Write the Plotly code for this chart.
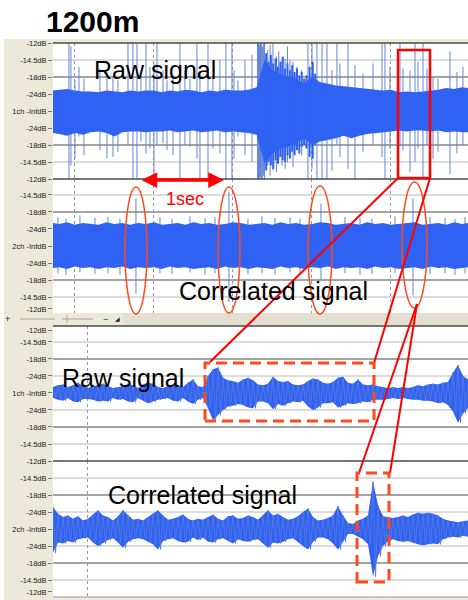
import numpy as np
import plotly.graph_objects as go

W, H = 468, 600

# ---------------- data ----------------
# time grid of the overview panels, seconds (dotted lines = 1 s apart)
env_t = [-0.28] + [round(k / 10, 1) for k in range(-2, 50)] + [4.98]

# channel 1 (raw) overview: upper / lower envelope, in dB-scale steps
raw_top = [1.2, 1.25, 1.3, 1.2, 1.15, 1.15, 1.1, 1.2, 1.15, 1.1,
           1.2, 1.15, 1.2, 1.2, 1.1, 1.2, 1.15, 1.25, 1.2, 1.1,
           1.2, 1.15, 1.25, 1.2, 1.2, 1.25, 1.4, 3.0, 2.4, 2.2,
           2.0, 1.9, 1.6, 2.0, 1.7, 1.6, 1.5, 1.45, 1.4, 1.35,
           1.3, 1.25, 1.2, 1.25, 1.1, 1.15, 1.1, 1.15, 1.2, 1.25,
           1.35, 1.3, 1.4, 1.35]
raw_bot = [-1.3, -1.35, -1.45, -1.3, -1.4, -1.25, -1.2, -1.3, -1.5, -1.25,
           -1.2, -1.2, -1.25, -1.2, -1.2, -1.15, -1.25, -1.2, -1.15, -1.25,
           -1.2, -1.15, -1.25, -1.2, -1.25, -1.3, -1.4, -3.1, -2.5, -2.2,
           -2.1, -1.9, -1.6, -2.0, -1.8, -1.7, -1.6, -1.45, -1.6, -1.45,
           -1.35, -1.3, -1.25, -1.2, -1.15, -1.2, -1.15, -1.15, -1.2, -1.15,
           -1.25, -1.2, -1.25, -1.25]
# dense loud section of channel 1 (per-column peaks)
burst_t = [2.42, 2.45, 2.48, 2.51, 2.54, 2.57, 2.60, 2.63, 2.66, 2.69, 2.72,
           2.75, 2.78, 2.81, 2.84, 2.87, 2.90, 2.93, 2.97, 3.01, 3.04]
burst_top = [3.4, 2.9, 3.3, 2.8, 3.1, 2.6, 2.9, 3.2, 2.5, 2.8, 2.4,
             2.7, 2.3, 2.5, 2.1, 2.3, 1.9, 2.1, 2.6, 2.9, 2.2]
burst_bot = [-3.5, -3.0, -3.2, -3.4, -2.9, -3.1, -2.7, -2.9, -3.0, -2.6, -2.8,
             -2.4, -2.6, -2.3, -2.5, -2.1, -2.0, -2.2, -2.7, -2.8, -2.0]
# clicks / peaks in channel 1
raw_spike_t = [-0.076, -0.051, 0.0, 0.051, 0.114, 0.316, 0.405, 0.481, 0.544, 0.671,
               0.734, 0.785, 0.835, 0.899, 0.949, 1.0, 1.038, 1.114, 1.165, 1.241,
               1.329, 1.392, 1.456, 1.544, 1.582, 1.684, 1.747, 1.835, 1.911, 1.987,
               2.013, 2.063, 2.152, 2.241, 2.31, 2.323, 2.336, 2.349, 2.362, 2.375,
               2.388, 2.40, 2.44, 2.47, 2.506, 2.55, 2.58, 2.620, 2.66, 2.69,
               2.722, 2.76, 2.810, 2.87, 2.949, 3.0, 3.063, 3.127, 3.190, 3.253,
               3.316, 3.354, 3.456, 3.544, 3.646, 3.772, 3.886, 3.924, 3.987, 4.114,
               4.152, 4.241, 4.304, 4.342, 4.405, 4.456, 4.532, 4.595, 4.747, 4.835,
               4.911]
raw_spike_top = [4, 3.8, 1.8, 2.6, 1.9, 2.5, 2.3, 2.0, 1.8, 4,
                 4, 4, 2.2, 4, 2.6, 2.8, 4, 2.4, 1.8, 2.1,
                 4, 2.4, 1.9, 4, 2.3, 4, 2.0, 3.0, 4, 4,
                 2.4, 1.8, 3.0, 3.3, 4, 4, 3.9, 4, 4, 3.8,
                 4, 4, 3.6, 3.9, 4, 3.2, 3.5, 2.9, 3.1, 3.8,
                 3.0, 2.9, 2.6, 2.4, 4, 4, 4, 4, 4, 2.4,
                 4, 2.8, 4, 2.7, 2.2, 2.8, 4, 4, 2.6, 4,
                 2.5, 2.4, 4, 2.9, 4, 2.5, 2.0, 1.9, 3.5, 2.3,
                 2.6]
raw_spike_bot = [-4, -3.2, -2.8, -1.5, -2.6, -2.3, -2.8, -2.7, -2.4, -2.0,
                 -4, -4, -1.8, -2.5, -2.2, -4, -2.0, -1.9, -2.3, -2.6,
                 -4, -2.0, -2.1, -2.8, -4, -4, -2.2, -2.5, -4, -4,
                 -2.8, -1.5, -2.6, -3.0, -4, -4, -4, -3.9, -4, -4,
                 -3.8, -4, -3.2, -3.8, -3.5, -3.6, -2.9, -3.2, -3.4, -3.0,
                 -2.8, -3.3, -2.3, -2.6, -4, -3.4, -4, -4, -4, -3.5,
                 -2.0, -2.7, -3.4, -4, -2.4, -2.0, -2.7, -4, -2.2, -2.1,
                 -2.3, -3.6, -3.0, -2.2, -4, -2.0, -2.8, -2.4, -3.7, -2.5,
                 -2.0]

# channel 2 (correlated) overview
cor_top = [1.35, 1.3, 1.4, 1.25, 1.35, 1.3, 1.25, 1.4, 1.3, 1.35,
           1.25, 1.35, 1.3, 1.4, 1.25, 1.3, 1.35, 1.25, 1.4, 1.3,
           1.35, 1.25, 1.3, 1.4, 1.35, 1.25, 1.3, 1.35, 1.25, 1.4,
           1.3, 1.35, 1.25, 1.3, 1.4, 1.35, 1.25, 1.3, 1.35, 1.25,
           1.4, 1.3, 1.35, 1.25, 1.3, 1.35, 1.4, 1.25, 1.3, 1.35,
           1.25, 1.4, 1.3, 1.35]
cor_bot = [-1.3, -1.25, -1.35, -1.2, -1.3, -1.25, -1.35, -1.25, -1.3, -1.2,
           -1.35, -1.25, -1.3, -1.25, -1.35, -1.2, -1.3, -1.25, -1.35, -1.3,
           -1.25, -1.35, -1.2, -1.3, -1.25, -1.35, -1.25, -1.3, -1.35, -1.2,
           -1.3, -1.25, -1.35, -1.25, -1.3, -1.2, -1.35, -1.25, -1.3, -1.25,
           -1.35, -1.2, -1.3, -1.25, -1.35, -1.3, -1.25, -1.35, -1.2, -1.3,
           -1.25, -1.35, -1.3, -1.25]
cor_spike_t = [-0.215, -0.114, 0.063, 0.253, 0.418, 0.570, 0.772, 1.076, 1.228, 1.456,
               1.646, 1.772, 1.949, 2.190, 2.367, 2.532, 2.722, 2.848, 3.114, 3.418,
               3.608, 3.759, 4.051, 4.278, 4.494, 4.684, 4.810, 4.937]
cor_spike_top = [1.7, 1.6, 1.8, 1.65, 1.7, 1.6, 2.8, 1.7, 1.6, 1.75,
                 1.65, 1.7, 3.2, 1.6, 1.75, 1.65, 1.7, 1.6, 2.5, 1.7,
                 1.65, 1.6, 1.75, 2.8, 1.7, 1.65, 1.6, 1.7]
cor_spike_bot = [-1.6, -1.7, -1.55, -1.65, -1.6, -1.7, -2.8, -1.6, -1.65, -1.55,
                 -1.7, -1.6, -3.3, -1.65, -1.6, -1.7, -1.55, -1.65, -2.0, -1.6,
                 -1.7, -1.65, -1.6, -2.9, -1.65, -1.6, -1.7, -1.6]

# zoomed view (per-column max / min), seconds
zoom_t = list(np.linspace(3.95, 4.55, 84))
zraw_top = [0.35, 0.45, 0.5, 0.35, 0.45, 0.6, 0.4, 0.3, 0.4, 0.45,
            0.55, 0.4, 0.3, 0.35, 0.4, 0.55, 0.45, 0.3, 0.5, 0.6,
            0.55, 0.35, 0.3, 0.4, 0.5, 0.45, 0.35, 0.6, 0.8, 0.4,
            0.35, 1.0, 1.4, 1.5, 0.9, 0.75, 0.7, 0.6, 0.8, 0.9,
            0.75, 0.5, 0.45, 0.55, 0.95, 0.7, 0.65, 0.7, 0.5, 0.45,
            0.5, 0.7, 0.85, 0.8, 0.6, 0.55, 0.65, 0.9, 0.95, 0.6,
            0.55, 0.8, 0.5, 0.45, 0.5, 0.4, 0.35, 0.3, 0.35, 0.3,
            0.35, 0.3, 0.35, 0.45, 0.4, 0.5, 0.55, 0.5, 0.6, 0.65,
            1.2, 1.65, 1.0, 0.8]
zraw_bot = [-0.3, -0.4, -0.45, -0.3, -0.5, -0.55, -0.35, -0.35, -0.4, -0.5,
            -0.45, -0.5, -0.3, -0.4, -0.35, -0.5, -0.55, -0.3, -0.45, -0.6,
            -0.5, -0.4, -0.35, -0.3, -0.45, -0.5, -0.3, -0.5, -0.65, -0.4,
            -0.3, -0.9, -1.6, -1.3, -1.0, -0.8, -0.75, -0.65, -0.7, -0.85,
            -0.9, -0.5, -0.5, -0.6, -0.95, -0.65, -0.75, -0.6, -0.5, -0.55,
            -0.45, -0.8, -1.0, -0.85, -0.6, -0.6, -0.55, -0.85, -0.75, -0.6,
            -0.65, -0.6, -0.5, -0.55, -0.4, -0.4, -0.4, -0.35, -0.3, -0.35,
            -0.3, -0.35, -0.4, -0.4, -0.45, -0.45, -0.5, -0.6, -0.55, -0.7,
            -1.1, -1.75, -1.2, -0.9]
zcor_top = [1.3, 0.9, 0.7, 0.8, 0.6, 0.75, 0.5, 0.6, 0.85, 1.1,
            0.8, 0.7, 0.5, 0.75, 1.1, 0.8, 0.55, 0.6, 0.5, 0.7,
            0.9, 1.1, 0.8, 0.55, 0.6, 0.7, 0.85, 0.6, 0.5, 0.6,
            0.55, 0.7, 0.85, 0.6, 0.5, 0.75, 0.8, 0.6, 0.65, 0.8,
            0.7, 0.55, 0.8, 1.1, 0.8, 0.9, 0.7, 0.55, 0.6, 0.75,
            1.0, 1.2, 0.7, 0.5, 0.55, 0.65, 0.8, 1.35, 0.8, 0.35,
            0.3, 0.5, 0.6, 0.8, 2.8, 1.4, 0.75, 0.7, 0.65, 0.7,
            0.8, 0.7, 0.85, 0.95, 0.9, 0.95, 0.9, 0.8, 0.6, 0.5,
            0.45, 0.4, 0.45, 0.5]
zcor_bot = [-1.4, -0.8, -0.85, -0.7, -0.8, -0.6, -0.55, -0.5, -0.8, -1.0,
            -0.85, -0.65, -0.55, -0.8, -1.1, -0.75, -0.6, -0.55, -0.6, -0.75,
            -0.9, -1.2, -0.7, -0.6, -0.55, -0.7, -0.8, -0.75, -0.5, -0.65,
            -0.5, -0.75, -0.8, -0.6, -0.55, -0.7, -0.85, -0.6, -0.7, -0.75,
            -0.65, -0.6, -0.85, -1.1, -0.8, -0.85, -0.75, -0.6, -0.55, -0.8,
            -1.0, -1.2, -0.75, -0.5, -0.5, -0.6, -0.85, -1.2, -0.75, -0.3,
            -0.3, -0.45, -0.6, -0.9, -2.8, -1.6, -1.0, -0.7, -0.6, -0.7,
            -0.75, -0.7, -0.8, -0.9, -0.95, -0.9, -0.85, -0.9, -0.6, -0.5,
            -0.45, -0.5, -0.4, -0.45]

# dB tick labels
db_vals = [4, 3, 2, 1, 0, -1, -2, -3, -4]
db_text = ['-12dB', '-14.5dB', '-18dB', '-24dB', None, '-24dB', '-18dB', '-14.5dB', '-12dB']

# ---------------- styling ----------------
BODY = '#2F62F2'
PEAK = '#6584D8'
TEXTURE = '#5478E2'
BEIGE = '#ECE9D8'
DARK = '#4a4a4a'
LIGHT = '#b8b8b8'
RED = '#FF0000'
ORANGE = '#FF4A1A'
FONT = 'Liberation Sans, Arial, sans-serif'


def P(px):
    return px / W


def Q(py):
    return 1 - py / H


fig = go.Figure()


def band(t, top, bot, xa, ya, color=BODY):
    fig.add_trace(go.Scatter(x=list(t) + list(t)[::-1], y=list(top) + list(bot)[::-1],
                             fill='toself', fillcolor=color, mode='lines',
                             line=dict(width=0, color=color), hoverinfo='skip',
                             xaxis=xa, yaxis=ya))


def spikes(t, top, bot, xa, ya, color=PEAK, width=1):
    xs, ys = [], []
    for ti, a, b in zip(t, top, bot):
        xs += [ti, ti, None]
        ys += [a, b, None]
    fig.add_trace(go.Scatter(x=xs, y=ys, mode='lines', line=dict(width=width, color=color),
                             hoverinfo='skip', xaxis=xa, yaxis=ya))


def zigzag(t, top, bot, xa, ya):
    step = t[1] - t[0]
    xs, ys = [], []
    for ti, a, b in zip(t, top, bot):
        xs += [ti, ti + step / 2]
        ys += [a, b]
    fig.add_trace(go.Scatter(x=xs, y=ys, mode='lines', line=dict(width=0.9, color=TEXTURE),
                             hoverinfo='skip', xaxis=xa, yaxis=ya))


spikes(raw_spike_t, raw_spike_top, raw_spike_bot, 'x', 'y')
band(env_t, raw_top, raw_bot, 'x', 'y')
spikes(burst_t, burst_top, burst_bot, 'x', 'y', BODY, 2)
spikes(cor_spike_t, cor_spike_top, cor_spike_bot, 'x', 'y2')
band(env_t, cor_top, cor_bot, 'x', 'y2')
band(zoom_t, zraw_top, zraw_bot, 'x2', 'y3')
zigzag(zoom_t, zraw_top, zraw_bot, 'x2', 'y3')
band(zoom_t, zcor_top, zcor_bot, 'x2', 'y4')
zigzag(zoom_t, zcor_top, zcor_bot, 'x2', 'y4')

tickfont = dict(family=FONT, size=7.5, color='#222')


def yax(dom, rng, vals, texts, anchor):
    return dict(domain=dom, range=rng, tickvals=vals, ticktext=texts, ticks='outside',
                ticklen=4, tickcolor='#777', tickwidth=1, showgrid=False, zeroline=False,
                showline=False, anchor=anchor, tickfont=tickfont, automargin=False,
                fixedrange=True)


def xax(dom, rng, anchor):
    return dict(domain=dom, range=rng, showticklabels=False, ticks='', showgrid=True,
                dtick=1, tick0=0, griddash='dot', gridcolor='#9a9a9a', gridwidth=1,
                zeroline=False, showline=False, anchor=anchor, automargin=False,
                fixedrange=True)


xdom = [P(53), 1]
fig.update_layout(
    width=W, height=H, margin=dict(l=0, r=0, t=0, b=0),
    paper_bgcolor='white', plot_bgcolor='white', showlegend=False,
    xaxis=xax(xdom, [-0.278, 4.975], 'y'),
    xaxis2=xax(xdom, [3.95, 4.55], 'y3'),
    yaxis=yax([Q(179), Q(43)], [-4, 4], db_vals,
              [s if s else '1ch -InfdB' for s in db_text], 'x'),
    yaxis2=yax([Q(313), Q(179)], [-3.94, 3.94], db_vals[1:8] + [-3.7],
               [s if s else '2ch -InfdB' for s in db_text[1:]], 'x'),
    yaxis3=yax([Q(461), Q(326)], [-4, 3.94], [3.7] + db_vals[1:8],
               [s if s else '1ch -InfdB' for s in db_text[:8]], 'x2'),
    yaxis4=yax([Q(597), Q(461)], [-4, 4], db_vals[:8] + [-3.7],
               [s if s else '2ch -InfdB' for s in db_text], 'x2'),
)

shapes = []
# beige application window around the (white) tracks
for bx0, by0, bx1, by1 in [(4, 39, 468, 43), (4, 39, 53, 600), (4, 313, 468, 326),
                           (4, 597, 468, 600)]:
    shapes.append(dict(type='rect', xref='paper', yref='paper', x0=P(bx0), x1=P(bx1),
                       y0=Q(by1), y1=Q(by0), fillcolor=BEIGE, line=dict(width=0),
                       layer='below'))
# dB grid lines
for ya, xa in [('y', 'x'), ('y2', 'x'), ('y3', 'x2'), ('y4', 'x2')]:
    for lv, col, w in [(1, LIGHT, 1), (-1, LIGHT, 1), (3, LIGHT, 1), (-3, LIGHT, 1),
                       (2, DARK, 1.2), (-2, DARK, 1.2)]:
        shapes.append(dict(type='line', xref=xa + ' domain', yref=ya, x0=0, x1=1, y0=lv, y1=lv,
                           line=dict(color=col, width=w), layer='below'))
for ya, xa, yv, col in [('y', 'x', 1, DARK), ('y', 'x', 0, DARK), ('y3', 'x2', 1, DARK),
                        ('y4', 'x2', 1, DARK), ('y4', 'x2', 0, LIGHT)]:
    shapes.append(dict(type='line', xref=xa + ' domain', yref=ya + ' domain', x0=0, x1=1,
                       y0=yv, y1=yv, line=dict(color=col, width=1.3)))

# toolbar strip between the views
shapes.append(dict(type='rect', xref='paper', yref='paper', x0=P(123), x1=1, y0=Q(325), y1=Q(313),
                   fillcolor='#E3E0D2', line=dict(width=0), layer='below'))
shapes.append(dict(type='line', xref='paper', yref='paper', x0=P(20), x1=P(55), y0=Q(319), y1=Q(319),
                   line=dict(color='#c9c6b8', width=2)))
shapes.append(dict(type='line', xref='paper', yref='paper', x0=P(62), x1=P(93), y0=Q(319), y1=Q(319),
                   line=dict(color='#c9c6b8', width=2)))
shapes.append(dict(type='line', xref='paper', yref='paper', x0=P(67), x1=P(67), y0=Q(323), y1=Q(315),
                   line=dict(color='#b0ad9f', width=1)))

# highlight rectangle in raw overview
shapes.append(dict(type='rect', xref='paper', yref='paper', x0=P(398), x1=P(430), y0=Q(178), y1=Q(50),
                   line=dict(color=RED, width=2.5)))
# ellipses around correlation peaks
for cx0, cx1, cy0, cy1 in [(125, 147, 187, 314), (218, 240, 187, 313),
                           (308, 332, 186, 314), (402, 427, 182, 308)]:
    shapes.append(dict(type='circle', xref='paper', yref='paper', x0=P(cx0), x1=P(cx1),
                       y0=Q(cy1), y1=Q(cy0), line=dict(color=ORANGE, width=1.5)))
# connector lines
for (ax0, ay0), (ax1, ay1) in [((398, 178), (210, 362)), ((430, 178), (374, 363)),
                               ((417, 304), (359, 473)), ((417, 304), (390, 473))]:
    shapes.append(dict(type='line', xref='paper', yref='paper', x0=P(ax0), y0=Q(ay0),
                       x1=P(ax1), y1=Q(ay1), line=dict(color=RED, width=2)))
# dashed zoom boxes
for bx0, by0, bx1, by1 in [(205, 363, 374, 421), (357, 473, 389, 582)]:
    shapes.append(dict(type='rect', xref='paper', yref='paper', x0=P(bx0), x1=P(bx1),
                       y0=Q(by1), y1=Q(by0), line=dict(color=ORANGE, width=3, dash='11px,6px')))
fig.update_layout(shapes=shapes)

ann = []
ann.append(dict(text='<b>1200m</b>', x=P(44), y=Q(21), xanchor='left', yanchor='middle',
                font=dict(family=FONT, size=30, color='black')))
for txt, x0, yc in [('Raw signal', 92, 70), ('Correlated signal', 177, 291),
                    ('Raw signal', 60, 378), ('Correlated signal', 106, 495)]:
    ann.append(dict(text=txt, x=P(x0), y=Q(yc), xanchor='left', yanchor='middle',
                    font=dict(family=FONT, size=25, color='black')))
ann.append(dict(text='1sec', x=P(185), y=Q(199), xanchor='center', yanchor='middle',
                font=dict(family=FONT, size=18, color=RED)))
ann.append(dict(text='', x=P(224), y=Q(180), ax=-84, ay=0, xref='paper', yref='paper',
                axref='pixel', ayref='pixel', showarrow=True, arrowhead=2, startarrowhead=2,
                arrowside='end+start', arrowwidth=3.5, arrowsize=0.9, startarrowsize=0.9,
                arrowcolor=RED, standoff=0, startstandoff=0))
for txt, x0, sz in [('+', 7, 9), ('\u2212', 105, 9), ('\u25e2', 117, 6)]:
    ann.append(dict(text=txt, x=P(x0), y=Q(319), xanchor='center', yanchor='middle',
                    font=dict(family=FONT, size=sz, color='#222')))
for a in ann:
    a.setdefault('xref', 'paper')
    a.setdefault('yref', 'paper')
    a.setdefault('showarrow', False)
fig.update_layout(annotations=ann)

fig.write_html('out.html')
